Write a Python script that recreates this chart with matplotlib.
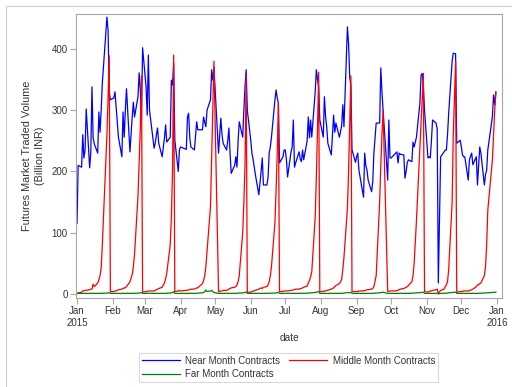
import numpy as np
import pandas as pd
import matplotlib
matplotlib.use("Agg")
import matplotlib.pyplot as plt
import matplotlib.dates as mdates
from matplotlib.lines import Line2D

plt.rcParams["font.family"] = ["Liberation Sans", "DejaVu Sans"]

# NSE trading holidays (weekdays) in 2015
holidays = ["2015-01-26", "2015-02-17", "2015-03-06", "2015-04-02", "2015-04-03",
            "2015-04-14", "2015-05-01", "2015-09-17", "2015-09-25", "2015-10-02",
            "2015-10-22", "2015-11-12", "2015-11-25", "2015-12-25"]

# Billion INR, one value per trading day, one line per month
near_month = [
    115, 210, 207, 260, 222, 235, 302, 206, 232, 338, 255, 245, 230, 297, 264, 300, 344, 452, 430, 330, 317,
    320, 330, 305, 280, 256, 224, 297, 256, 300, 335, 232, 290, 313, 289, 322, 361, 333, 284, 402,
    338, 292, 390, 300, 238, 246, 260, 271, 246, 224, 240, 255, 276, 248, 256, 349, 341, 377, 251, 200, 235,
    240, 236, 289, 295, 255, 240, 235, 281, 268, 268, 268, 289, 280, 273, 300, 317, 366, 349, 370,
    230, 260, 287, 260, 246, 235, 250, 271, 230, 197, 210, 224, 207, 250, 281, 256, 300, 338, 366, 300,
    251, 230, 220, 207, 195, 162, 181, 200, 222, 178, 178, 190, 230, 240, 256, 317, 333, 320, 312, 214, 224, 235,
    235, 219, 191, 232, 240, 284, 207, 214, 232, 220, 216, 235, 219, 250, 289, 255, 284, 256, 330, 366, 350, 338, 284,
    256, 322, 290, 273, 246, 227, 260, 292, 264, 279, 256, 265, 275, 309, 273, 436, 409, 354, 340, 235, 215,
    224, 230, 202, 191, 158, 230, 210, 202, 186, 167, 183, 230, 279, 279, 369, 330, 300, 186, 284, 222,
    222, 230, 232, 214, 230, 228, 227, 189, 200, 214, 219, 216, 248, 240, 256, 312, 357, 360, 340, 300,
    222, 224, 222, 250, 284, 279, 270, 18, 224, 232, 235, 235, 260, 295, 380, 393, 392, 246, 251,
    240, 227, 224, 224, 186, 219, 225, 230, 211, 224, 178, 210, 240, 230, 178, 195, 202, 235, 290, 325, 309, 330,
]
middle_month = [
    1, 2, 3, 5, 5, 6, 6, 7, 8, 8, 16, 12, 18, 23, 30, 42, 80, 260, 320, 389, 4,
    4, 5, 5, 6, 7, 8, 9, 10, 10, 12, 20, 32, 45, 65, 160, 215, 270, 356, 3,
    4, 4, 5, 5, 5, 6, 7, 8, 9, 11, 15, 18, 25, 34, 80, 125, 200, 390, 4, 5, 6,
    5, 6, 6, 7, 7, 8, 8, 10, 10, 12, 17, 22, 30, 45, 70, 143, 220, 290, 380,
    4, 4, 5, 5, 6, 6, 7, 8, 9, 10, 11, 12, 15, 20, 30, 100, 150, 210, 356, 3,
    3, 4, 5, 5, 6, 8, 9, 10, 9, 11, 12, 15, 20, 30, 45, 116, 170, 230, 312, 4, 4, 5,
    5, 5, 5, 6, 6, 7, 7, 8, 8, 9, 9, 10, 11, 13, 18, 22, 28, 36, 125, 190, 270, 362, 4,
    4, 5, 5, 6, 6, 8, 9, 10, 12, 14, 17, 20, 24, 40, 60, 140, 200, 280, 356, 4, 4,
    4, 4, 5, 5, 5, 6, 6, 7, 7, 8, 9, 12, 30, 150, 210, 260, 300, 4, 4, 5,
    5, 5, 6, 6, 7, 8, 9, 10, 11, 12, 14, 20, 30, 50, 120, 240, 280, 320, 360, 4,
    3, 4, 5, 5, 6, 7, 8, 1, 6, 8, 12, 15, 20, 40, 150, 260, 379, 3, 4,
    4, 4, 5, 5, 5, 6, 6, 7, 8, 12, 15, 15, 17, 18, 30, 44, 80, 137, 219, 260, 300, 328,
]
far_month = [
    0.5, 1, 1, 1, 1, 1.2, 1, 1, 1.2, 1, 1.2, 1, 1, 1.3, 1.2, 1, 1.3, 1.5, 1.8, 2.5, 1,
    1, 1, 1.2, 1, 1, 1, 1.2, 1, 1, 1.2, 1, 1.3, 1, 1.2, 1.3, 1.5, 1.8, 2.5, 1,
    1, 1, 1, 1.2, 1, 1, 1.2, 1, 1, 1.2, 1, 1, 1.3, 1.3, 1.5, 2, 2.5, 4, 1, 1, 1.2,
    1, 1, 1.2, 1, 1, 1.3, 1, 1.2, 1.5, 1.5, 2, 2.5, 4, 6.5, 4, 5, 6, 4, 2.5,
    1, 1, 1.2, 1, 1, 1.2, 1, 1, 1.2, 1, 1.2, 1, 1.3, 1.5, 1.5, 1.8, 2, 2.5, 3.5, 1,
    1, 1, 1.2, 1, 1, 1.2, 1, 1, 1.2, 1, 1.2, 1, 1.3, 1.3, 1.5, 1.5, 1.8, 2, 3, 1, 1, 1,
    1, 1, 1.2, 1, 1, 1.2, 1, 1, 1.2, 1, 1.2, 1, 1.3, 1.3, 1.5, 1.5, 1.8, 2, 2.5, 3, 3.5, 4, 1,
    1, 1, 1.2, 1, 1, 1.2, 1, 1, 1.2, 1, 1.2, 1, 1.3, 1.5, 1.5, 2.5, 2, 2.2, 3, 1, 1,
    1, 1, 1.2, 1, 1, 1.2, 1, 1, 1.2, 1, 1.2, 1.3, 1.5, 2, 2, 2.5, 3, 1, 1, 1,
    1, 1, 1.2, 1, 1, 1.2, 1, 1, 1.2, 1, 1.2, 1.3, 1.5, 1.5, 2, 2, 2.5, 2.8, 3, 1,
    1, 1, 1.2, 1, 1, 1.2, 1, 0.3, 1, 1.2, 1.3, 1.5, 1.5, 2, 2.5, 2.8, 3, 1, 1,
    1, 1, 1.2, 1, 1, 1.2, 1, 1, 1.2, 1, 1.2, 1.3, 1.3, 1.5, 1.5, 1.8, 2, 2, 2.5, 2.5, 2.8, 3,
]
series_names = ["Near Month Contracts", "Middle Month Contracts", "Far Month Contracts"]
month_labels = ["Jan\n2015", "Feb", "Mar", "Apr", "May", "Jun", "Jul",
                "Aug", "Sep", "Oct", "Nov", "Dec", "Jan\n2016"]

dates = pd.bdate_range("2015-01-01", "2015-12-31", freq="C", holidays=holidays)
assert len(dates) == len(near_month) == len(middle_month) == len(far_month)

TXT = "#333333"
fig = plt.figure(figsize=(5.12, 3.87), dpi=100)
ax = fig.add_axes([76 / 512, 1 - 298 / 387, 426 / 512, 284 / 387])

l1, = ax.plot(dates, near_month, color="#0000ff", lw=0.9, label=series_names[0])
l2, = ax.plot(dates, middle_month, color="#ff0000", lw=0.9, label=series_names[1])
l3, = ax.plot(dates, far_month, color="#008000", lw=0.9, label=series_names[2])

ax.set_ylim(-6.5, 457)
ax.set_yticks([0, 100, 200, 300, 400])
ax.set_xlim(pd.Timestamp("2014-12-31 03:00"), pd.Timestamp("2016-01-05 08:00"))
ax.set_xticks(pd.date_range("2015-01-01", "2016-01-01", freq="MS"))
ax.set_xticklabels(month_labels)

for s in ax.spines.values():
    s.set_color("#a8a8a8")
    s.set_linewidth(0.8)
ax.tick_params(colors="#a8a8a8", labelcolor=TXT, labelsize=7, length=4, width=0.8, pad=2)

ax.set_xlabel("date", fontsize=7.3, color=TXT, labelpad=4)
ax.set_ylabel("Futures Market Traded Volume\n(Billion INR)", fontsize=7.8, color=TXT,
              labelpad=5, linespacing=1.3)

leg = fig.legend([l1, l3, l2], [series_names[0], series_names[2], series_names[1]],
                 ncol=2, loc="center", bbox_to_anchor=(288.5 / 512, 1 - 367.5 / 387),
                 fontsize=7, frameon=True, fancybox=False, handlelength=3.9,
                 handletextpad=0.6, columnspacing=0.9, labelspacing=0.4,
                 borderpad=0.25, labelcolor=TXT)
leg.get_frame().set_edgecolor("#d0d0d0")
leg.get_frame().set_linewidth(0.8)

# outer frame of the graph area
fig.add_artist(Line2D([5.5 / 512, 5.5 / 512], [0, 1 - 5.5 / 387], color="#d0d0d0", lw=0.8))
fig.add_artist(Line2D([5.5 / 512, 1], [1 - 5.5 / 387, 1 - 5.5 / 387], color="#d0d0d0", lw=0.8))

fig.savefig("out.png", dpi=100, facecolor="white")
